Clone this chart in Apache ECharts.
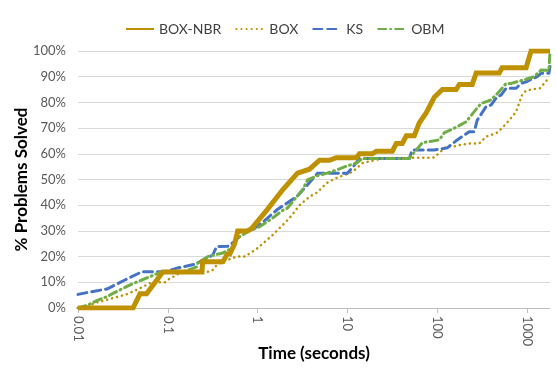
<!DOCTYPE html>
<html><head><meta charset="utf-8">
<script src="https://cdn.jsdelivr.net/npm/echarts@6/dist/echarts.min.js"></script>
<style>html,body{margin:0;padding:0;background:#fff}#c{width:556px;height:370px}</style>
</head><body><div id="c"></div>
<script>
const xTicks = [0.01, 0.1, 1, 10, 100, 1000];
const seriesNames = ['BOX-NBR', 'BOX', 'KS', 'OBM'];
const boxNbr = [[0.01,0],[0.041,0],[0.049,5.5],[0.058,5.5],[0.088,14],[0.24,14],[0.244,18],[0.41,18],[0.46,21],[0.49,21],[0.555,25],[0.6,30],[0.77,30],[0.86,31],[1.26,38],[1.9,46],[2.78,52.5],[3.78,54],[4.89,57.5],[6.3,57.5],[7.5,58.5],[12.6,58.5],[13.6,60],[18.9,60],[21,61],[31.6,61],[35,64],[40.8,64],[45.3,67],[55.5,67],[63,72],[75.5,76],[92.6,82],[114,85],[162,85],[176,87],[245,87],[271,91.4],[489,91.4],[527,93.5],[975,93.5],[1108,100],[1800,100]];
const box = [[0.01,0],[0.0129,0.5],[0.0155,2],[0.02,3],[0.028,4.4],[0.036,5.5],[0.051,8],[0.066,10],[0.093,10],[0.1,11],[0.12,12.5],[0.136,13.6],[0.27,14],[0.31,14.5],[0.35,16.7],[0.41,18],[0.585,20],[0.72,20],[0.975,23],[1.47,28.4],[2.27,35],[2.93,40],[3.78,43.3],[4.64,45],[5.85,48.6],[7.55,50.6],[11.4,53],[14.7,56.4],[18.9,57.3],[25,58.3],[81.5,58.5],[92.6,58.6],[105,60.3],[126,62.8],[162,63],[176,63.4],[227,64],[293,64],[350,66.7],[453,68],[527,70],[631,73],[755,76.4],[815,79.7],[880,82.9],[975,84.6],[1197,85.2],[1393,85.5],[1667,88.7],[1800,89]];
const ks = [[0.01,5.3],[0.0126,6],[0.021,7.4],[0.0333,10.9],[0.0514,14.1],[0.0926,14.1],[0.129,15.6],[0.2,17],[0.271,19.3],[0.316,20.6],[0.35,23.9],[0.464,24],[0.585,26.5],[0.63,29.7],[0.858,30.4],[1.107,33],[1.67,38.4],[2.78,43.6],[4.64,52.4],[10,52.4],[11.97,55.6],[13.6,58.2],[48.9,58.2],[52.7,61.5],[92.6,61.5],[129,62.3],[167,65.4],[227,68.6],[258,68.6],[278,73],[350,78.4],[398,79],[464,82.2],[514,82.9],[585,85.5],[755,85.5],[858,87.4],[975,88],[1292,90],[1432,91.3],[1750,91.4],[1800,94]];
const obm = [[0.01,0],[0.0126,1],[0.016,2.8],[0.021,4.4],[0.0245,5.7],[0.0333,8],[0.043,9.8],[0.0514,10.9],[0.0664,12.5],[0.0858,14.1],[0.147,14.1],[0.19,15.4],[0.21,16],[0.215,17.5],[0.278,20],[0.41,21.4],[0.514,23.3],[0.585,26.5],[0.63,27.7],[0.774,29.7],[1.05,31.6],[1.47,35],[1.9,38],[2.15,38.9],[3.16,46],[3.59,49.8],[4.64,51.5],[5.85,52.4],[7.55,53.7],[9.75,55.2],[12.6,56.4],[14.7,58.2],[48.9,58.2],[58.5,61.5],[68.1,64.3],[105,65.4],[120,68.2],[162,70.3],[210,72.5],[258,76.4],[308,79.6],[398,81],[489,84.2],[585,87.4],[664,87.4],[975,89],[1197,90],[1432,92.6],[1750,92.5],[1800,100]];

const FONT = 'Lato';
const gold = '#BF9000', blue = '#4472C4', green = '#70AD47';
const chart = echarts.init(document.getElementById('c'), null, {renderer: 'canvas'});
const mk = (name, data, color, width, type, z) => ({
  name, type: 'line', data, symbol: 'none', showSymbol: false, z,
  lineStyle: {color, width, type, cap: type === 'solid' ? 'butt' : 'round', join: 'miter'},
  itemStyle: {color}
});
chart.setOption({
  animation: false,
  textStyle: {fontFamily: FONT},
  grid: {left: 78, right: 6, top: 51, bottom: 62, containLabel: false, outerBoundsMode: 'none'},
  legend: {
    left: 120, top: 17, itemGap: 14, itemWidth: 28, itemHeight: 12,
    textStyle: {fontSize: 14, color: '#404040', fontFamily: FONT},
    itemStyle: {opacity: 0},
    data: seriesNames
  },
  xAxis: {
    type: 'log', logBase: 10, min: 0.01, max: 1800,
    name: 'Time (seconds)', nameLocation: 'middle', nameGap: 37, nameMoveOverlap: false,
    nameTextStyle: {fontSize: 17, fontWeight: 'bold', color: '#000', fontFamily: FONT},
    axisLine: {show: true, lineStyle: {color: '#BFBFBF', width: 1}},
    axisTick: {show: true, length: 5, lineStyle: {color: '#BFBFBF'}, customValues: xTicks},
    axisLabel: {rotate: -90, fontSize: 13, color: '#595959', margin: 8, customValues: xTicks,
      formatter: v => String(+v.toPrecision(6))},
    splitLine: {show: false}
  },
  yAxis: {
    type: 'value', min: 0, max: 100, interval: 10,
    name: '% Problems Solved', nameLocation: 'middle', nameGap: 48, nameMoveOverlap: false,
    nameTextStyle: {fontSize: 17, fontWeight: 'bold', color: '#000', fontFamily: FONT},
    axisLine: {show: false}, axisTick: {show: false},
    axisLabel: {fontSize: 13, color: '#595959', margin: 12, formatter: '{value}%'},
    splitLine: {lineStyle: {color: '#D9D9D9', width: 1}}
  },
  series: [
    mk('BOX-NBR', boxNbr, gold, 5, 'solid', 5),
    mk('BOX', box, gold, 2.5, [0.1, 5], 3),
    mk('KS', ks, blue, 3, [9, 5], 4),
    mk('OBM', obm, green, 3, [8, 4, 1, 4], 4)
  ]
});
</script></body></html>
